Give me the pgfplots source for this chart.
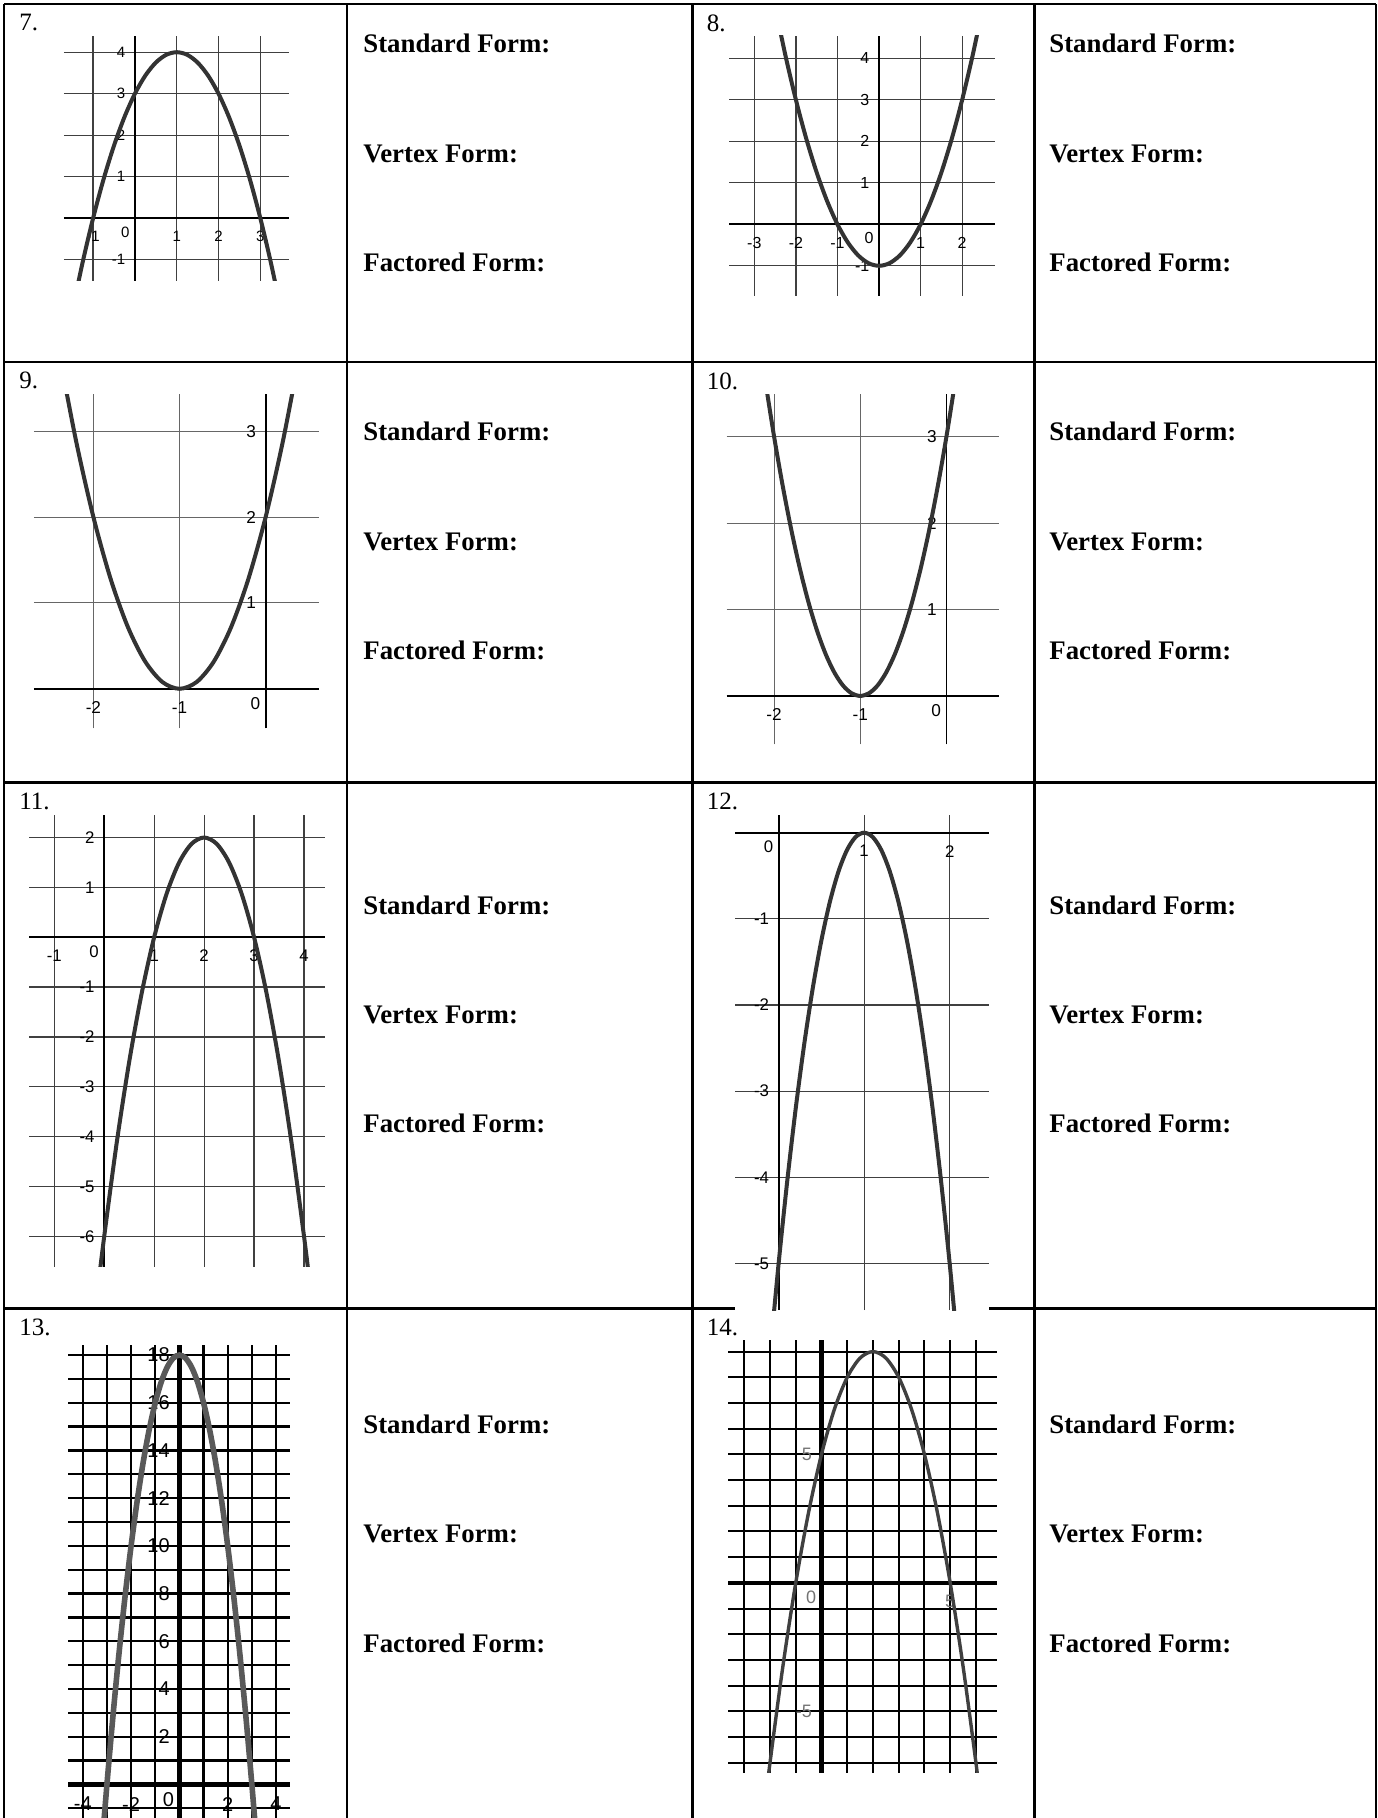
\documentclass[border=0pt]{standalone}
\usepackage{pgfplots}
\pgfplotsset{compat=1.18}
\usepackage{fontspec}
\setmainfont{Liberation Serif}
\newfontfamily\lsans{Liberation Sans}

% one grid graph: axis box = the grid, no ticks, axes through the origin
\pgfplotsset{
  gg/.style={
    scale only axis, anchor=north west,
    axis lines=middle,
    axis line style={-, black, line width=0.9pt},
    every inner x axis line/.append style={-},
    every inner y axis line/.append style={-},
    grid=major,
    major grid style={black!75, line width=0.6pt},
    tick style={draw=none},
    xticklabel style={inner sep=0pt, yshift=-4pt},
    yticklabel style={inner sep=0pt, xshift=-2.5pt},
    /pgf/number format/assume math mode=true,
  },
  curve/.style={black!80, line width=2pt, smooth, no markers},
}
\tikzset{zero/.style={anchor=north east, inner sep=0pt, xshift=-2.5pt, yshift=-4pt}}

\newcommand{\num}[1]{\fontsize{12.5}{14}\selectfont #1}
\newcommand{\lbl}{\bfseries\fontsize{13.4}{16}\selectfont}

\begin{document}
\begin{tikzpicture}
\useasboundingbox (0,0) rectangle (688.5pt,-909pt);

% table
\begin{scope}[line width=1.4pt]
\draw (2pt,-2pt) -- (688pt,-2pt);
\draw (2pt,-181pt) -- (688pt,-181pt);
\draw (2pt,-391.25pt) -- (688pt,-391.25pt);
\draw (2pt,-654.25pt) -- (367.5pt,-654.25pt);
\draw (494.5pt,-654.25pt) -- (688pt,-654.25pt);
\foreach \x in {2,173.5,346.25,517.25,688} \draw (\x pt,-2pt) -- (\x pt,-912pt);
\end{scope}

% numbers
\foreach \n/\x/\y in {7/9.5/-7, 8/353.25/-7, 9/9.5/-186, 10/353.25/-186,
  11/9.5/-396.25, 12/353.25/-396.25, 13/9.5/-659.25, 14/353.25/-659.25}
  \node[anchor=north west, inner sep=0pt] at (\x pt,\y pt) {\num{\n.}};

% form labels
\foreach \x in {181.5,524.5}{
  \foreach \a/\b/\c in {-26.25/-81.25/-135.75, -220.5/-275/-329.5, -457/-511.5/-566, -716.5/-771/-826}{
    \node[anchor=base west, inner sep=0pt] at (\x pt,\a pt) {\lbl Standard Form:};
    \node[anchor=base west, inner sep=0pt] at (\x pt,\b pt) {\lbl Vertex Form:};
    \node[anchor=base west, inner sep=0pt] at (\x pt,\c pt) {\lbl Factored Form:};
  }
}

% 7
\begin{axis}[gg, at={(31.9pt,-18pt)}, width=112.5pt, height=122.5pt,
  xmin=-1.70, xmax=3.68, ymin=-1.51, ymax=4.39,
  xtick={-1,1,2,3}, ytick={-1,1,2,3,4},
  tick label style={font=\lsans\fontsize{7.5}{8}\selectfont}]
\addplot[curve] coordinates {
  (-1.5,-2.25) (-1.25,-1.0625) (-1,0) (-0.75,0.9375) (-0.5,1.75) (-0.25,2.4375)
  (0,3) (0.25,3.4375) (0.5,3.75) (0.75,3.9375) (1,4) (1.25,3.9375) (1.5,3.75)
  (1.75,3.4375) (2,3) (2.25,2.4375) (2.5,1.75) (2.75,0.9375) (3,0)
  (3.25,-1.0625) (3.5,-2.25)};
\node[zero, font=\lsans\fontsize{7.5}{8}\selectfont] at (axis cs:0,0) {0};
\end{axis}

% 8
\begin{axis}[gg, at={(364.7pt,-18pt)}, width=133pt, height=129.85pt,
  xmin=-3.60, xmax=2.80, ymin=-1.72, ymax=4.54,
  xtick={-3,-2,-1,1,2}, ytick={-1,1,2,3,4},
  tick label style={font=\lsans\fontsize{8}{8}\selectfont}]
\addplot[curve] coordinates {
  (-2.5,5.25) (-2.25,4.0625) (-2,3) (-1.75,2.0625) (-1.5,1.25) (-1.25,0.5625)
  (-1,0) (-0.75,-0.4375) (-0.5,-0.75) (-0.25,-0.9375) (0,-1) (0.25,-0.9375)
  (0.5,-0.75) (0.75,-0.4375) (1,0) (1.25,0.5625) (1.5,1.25) (1.75,2.0625)
  (2,3) (2.25,4.0625) (2.5,5.25)};
\node[zero, font=\lsans\fontsize{8}{8}\selectfont] at (axis cs:0,0) {0};
\end{axis}

% 9
\begin{axis}[gg, at={(17pt,-197.15pt)}, width=142.5pt, height=167pt,
  xmin=-2.69, xmax=0.62, ymin=-0.46, ymax=3.43,
  xtick={-2,-1}, ytick={1,2,3},
  major grid style={black!60, line width=0.55pt},
  tick label style={font=\lsans\fontsize{8.6}{9}\selectfont}]
\addplot[curve] coordinates {
  (-2.4,3.92) (-2.2,2.88) (-2,2) (-1.8,1.28) (-1.6,0.72) (-1.4,0.32) (-1.2,0.08)
  (-1,0) (-0.8,0.08) (-0.6,0.32) (-0.4,0.72) (-0.2,1.28) (0,2) (0.2,2.88)
  (0.4,3.92)};
\node[zero, font=\lsans\fontsize{8.6}{9}\selectfont] at (axis cs:0,0) {0};
\end{axis}

% 10
\begin{axis}[gg, at={(363.35pt,-197.15pt)}, width=136.15pt, height=175pt,
  xmin=-2.55, xmax=0.61, ymin=-0.56, ymax=3.49,
  xtick={-2,-1}, ytick={1,2,3},
  major grid style={black!60, line width=0.55pt},
  tick label style={font=\lsans\fontsize{8.6}{9}\selectfont}]
\addplot[curve] coordinates {
  (-2.1,3.63) (-2,3) (-1.9,2.43) (-1.8,1.92) (-1.7,1.47) (-1.6,1.08) (-1.5,0.75)
  (-1.4,0.48) (-1.3,0.27) (-1.2,0.12) (-1.1,0.03) (-1,0) (-0.9,0.03) (-0.8,0.12)
  (-0.7,0.27) (-0.6,0.48) (-0.5,0.75) (-0.4,1.08) (-0.3,1.47) (-0.2,1.92)
  (-0.1,2.43) (0,3) (0.1,3.63)};
\node[zero, font=\lsans\fontsize{8.6}{9}\selectfont] at (axis cs:0,0) {0};
\end{axis}

% 11
\begin{axis}[gg, at={(14.65pt,-407.3pt)}, width=147.85pt, height=226.05pt,
  xmin=-1.5, xmax=4.42, ymin=-6.61, ymax=2.46,
  xtick={-1,1,2,3,4}, ytick={-6,-5,-4,-3,-2,-1,1,2},
  tick label style={font=\lsans\fontsize{8.4}{9}\selectfont}]
\addplot[curve] coordinates {
  (-0.1,-6.82) (0,-6) (0.25,-4.125) (0.5,-2.5) (0.75,-1.125) (1,0) (1.25,0.875)
  (1.5,1.5) (1.75,1.875) (2,2) (2.25,1.875) (2.5,1.5) (2.75,0.875) (3,0)
  (3.25,-1.125) (3.5,-2.5) (3.75,-4.125) (4,-6) (4.1,-6.82)};
\node[zero, font=\lsans\fontsize{8.4}{9}\selectfont] at (axis cs:0,0) {0};
\end{axis}

% 12
\begin{axis}[gg, at={(367.5pt,-407.3pt)}, width=127pt, height=247.7pt,
  xmin=-0.51, xmax=2.46, ymin=-5.54, ymax=0.21,
  xtick={1,2}, ytick={-5,-4,-3,-2,-1},
  tick label style={font=\lsans\fontsize{8.4}{9}\selectfont}]
\addplot[curve] coordinates {
  (-0.1,-6.05) (0,-5) (0.1,-4.05) (0.2,-3.2) (0.3,-2.45) (0.4,-1.8) (0.5,-1.25)
  (0.6,-0.8) (0.7,-0.45) (0.8,-0.2) (0.9,-0.05) (1,0) (1.1,-0.05) (1.2,-0.2)
  (1.3,-0.45) (1.4,-0.8) (1.5,-1.25) (1.6,-1.8) (1.7,-2.45) (1.8,-3.2)
  (1.9,-4.05) (2,-5) (2.1,-6.05)};
\node[zero, font=\lsans\fontsize{8.4}{9}\selectfont] at (axis cs:0,0) {0};
\end{axis}

% 13
\begin{axis}[gg, at={(34.15pt,-672.5pt)}, width=110.85pt, height=236.5pt,
  xmin=-4.6, xmax=4.58, ymin=-1.41, ymax=18.42,
  grid=both,
  xtick={-4,-2,2,4}, minor xtick={-3,-1,1,3},
  ytick={2,4,6,8,10,12,14,16,18}, minor ytick={-1,1,3,5,7,9,11,13,15,17},
  major grid style={black, line width=1.1pt},
  minor grid style={black, line width=1.1pt},
  axis line style={line width=2.3pt},
  tick label style={font=\lsans\fontsize{10}{10}\selectfont}]
\addplot[black!65, line width=2.8pt, smooth, no markers] coordinates {
  (-3.25,-3.125) (-3,0) (-2.75,2.875) (-2.5,5.5) (-2.25,7.875) (-2,10)
  (-1.75,11.875) (-1.5,13.5) (-1.25,14.875) (-1,16) (-0.75,16.875) (-0.5,17.5)
  (-0.25,17.875) (0,18) (0.25,17.875) (0.5,17.5) (0.75,16.875) (1,16)
  (1.25,14.875) (1.5,13.5) (1.75,11.875) (2,10) (2.25,7.875) (2.5,5.5)
  (2.75,2.875) (3,0) (3.25,-3.125)};
\node[zero, font=\lsans\fontsize{10}{10}\selectfont] at (axis cs:0,0) {0};
\end{axis}

% 14
\begin{axis}[gg, at={(364.15pt,-670pt)}, width=134.5pt, height=216.35pt,
  xmin=-3.62, xmax=6.83, ymin=-7.39, ymax=9.45,
  grid=both,
  xtick={5}, minor xtick={-3,-2,-1,1,2,3,4,6},
  ytick={-5,5}, minor ytick={-7,-6,-4,-3,-2,-1,1,2,3,4,6,7,8,9},
  major grid style={black, line width=1pt},
  minor grid style={black, line width=1pt},
  axis line style={line width=2.2pt},
  tick label style={font=\lsans\fontsize{9}{10}\selectfont, text=black!55}]
\addplot[black!75, line width=1.7pt, smooth, no markers] coordinates {
  (-2.25,-9.0625) (-2,-7) (-1.5,-3.25) (-1,0) (-0.5,2.75) (0,5) (0.5,6.75) (1,8)
  (1.5,8.75) (2,9) (2.5,8.75) (3,8) (3.5,6.75) (4,5) (4.5,2.75) (5,0)
  (5.5,-3.25) (6,-7) (6.25,-9.0625)};
\node[zero, text=black!55, font=\lsans\fontsize{9}{10}\selectfont] at (axis cs:0,0) {0};
\end{axis}

\end{tikzpicture}
\end{document}
